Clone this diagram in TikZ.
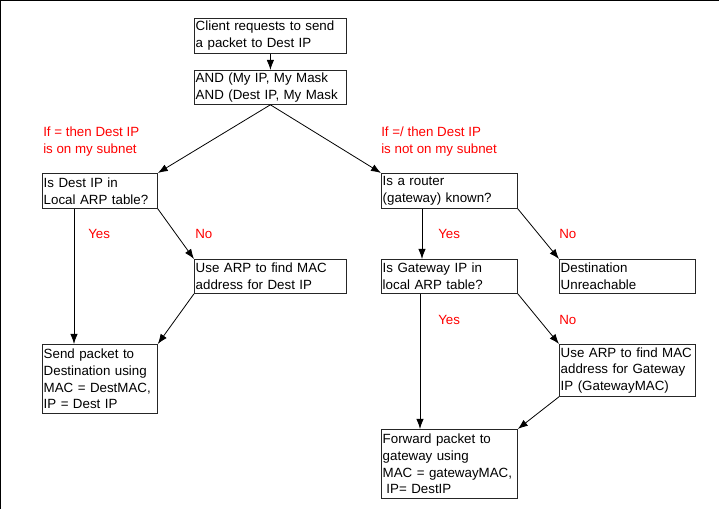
\documentclass[tikz,border=0pt]{standalone}
\usepackage{fontspec}
\setmainfont{Liberation Sans}
\usetikzlibrary{arrows.meta}

\tikzset{
  box/.style={draw=black!85, line width=0.6pt, anchor=north west, align=left,
    inner xsep=1pt, inner ysep=0pt, font=\fontsize{10}{12.6}\selectfont},
  wide/.style={box, minimum width=114pt, text width=112pt},
  narrow/.style={box, minimum width=86.25pt, text width=84.25pt},
  mid/.style={box, minimum width=102pt, text width=100pt},
  note/.style={red, align=left, inner sep=0pt, font=\fontsize{10}{12.6}\selectfont},
  flow/.style={-{Latex[length=7.5pt,width=5.5pt]}, line width=0.6pt}
}

\begin{document}
\begin{tikzpicture}[x=0.75pt,y=-0.75pt]
\useasboundingbox (0,0) rectangle (719,509);
\draw[line width=0.8pt] (0.5,509) -- (0.5,0.5) -- (719,0.5); % frame

% top
\node[wide, minimum height=26.25pt] (client) at (194,18) {Client requests to send\\a packet to Dest IP};
\node[wide, minimum height=25.5pt] (andmask) at (194,70) {AND (My IP, My Mask\\AND (Dest IP, My Mask};
% left branch
\node[narrow, minimum height=26.25pt] (localarp) at (42,173) {Is Dest IP in\\Local ARP table?};
\node[wide, minimum height=25.5pt] (usearp) at (194,259) {Use ARP to find MAC\\address for Dest IP};
\node[narrow, minimum height=51.75pt] (sendpkt) at (42,344) {Send packet to\\Destination using\\MAC = DestMAC,\\IP = Dest IP};
% right branch
\node[mid, minimum height=26.25pt] (router) at (381,173) {Is a router\\(gateway) known?};
\node[mid, minimum height=25.5pt] (gwarp) at (381,259) {Is Gateway IP in\\local ARP table?};
\node[mid, minimum height=25.5pt] (unreach) at (559,259) {Destination\\Unreachable};
\node[mid, minimum height=39pt] (usearpgw) at (559,344) {Use ARP to find MAC\\address for Gateway\\IP (GatewayMAC)};
\node[mid, minimum height=51.75pt] (fwdpkt) at (381,429) {Forward packet to\\gateway using\\MAC = gatewayMAC,\\\hspace*{0.28em}IP= DestIP};

% red notes
\node[note, anchor=north west] (onsub) at (43,127) {If = then Dest IP\\is on my subnet};
\node[note, anchor=north west] (offsub) at (381,127) {If =/ then Dest IP\\is not on my subnet};
\foreach \x/\y/\t in {88/239/Yes, 195/239/No, 438/239/Yes, 559/239/No, 438/325/Yes, 559/325/No} % edit here for the labels
\node[note, anchor=base west] (lbl-\x-\y) at (\x,\y) {\t};

% connectors
\draw[flow] (client) -- (andmask);
\draw[flow] (andmask.south) -- (localarp.north east);
\draw[flow] (andmask.south) -- (router.north west);
\draw[flow] ([xshift=24pt]localarp.south west) -- ([xshift=24pt]sendpkt.north west);
\draw[flow] (localarp.south east) -- (usearp.north west);
\draw[flow] (usearp.south west) -- (sendpkt.north east);
\draw[flow] ([xshift=30.75pt]router.south west) -- ([xshift=30.75pt]gwarp.north west);
\draw[flow] (router.south east) -- (unreach.north west);
\draw[flow] ([xshift=29.25pt]gwarp.south west) -- ([xshift=29.25pt]fwdpkt.north west);
\draw[flow] (gwarp.south east) -- (usearpgw.north west);
\draw[flow] (usearpgw.south west) -- (fwdpkt.north east);
\end{tikzpicture}
\end{document}
